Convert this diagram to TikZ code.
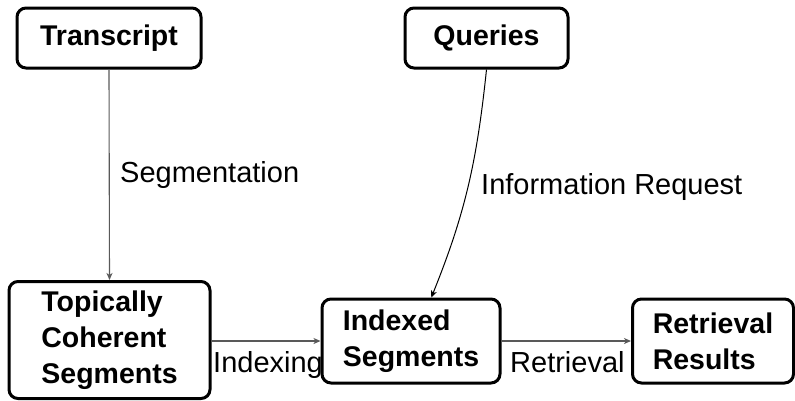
\documentclass[tikz,border=0pt]{standalone}
\usepackage{fontspec}
\setmainfont{Liberation Sans}
\usetikzlibrary{arrows.meta}
\begin{document}
\begin{tikzpicture}[x=1pt,y=-1pt,
  box/.style={draw=black, line width=3pt, rounded corners=9pt, align=left,
    font=\fontsize{28.5}{36}\selectfont\bfseries, inner sep=0pt, fill=white},
  lbl/.style={font=\fontsize{29}{34}\selectfont, inner sep=0pt},
  conn/.style={draw=black!65, line width=1.1pt, -{Stealth[length=7pt,width=6pt,inset=2pt]}},
  curv/.style={draw=black, line width=1pt, -{Stealth[length=7pt,width=6pt,inset=2pt]}}]
\useasboundingbox (0,0) rectangle (795,400);
\node[box, minimum width=184pt, minimum height=60pt] (tr) at (109,38) {Transcript};
\node[box, minimum width=163pt, minimum height=60pt] (q) at (486.5,38) {Queries};
\node[box, minimum width=201pt, minimum height=117pt] (tc) at (109.5,340) {Topically\\Coherent\\Segments};
\node[box, minimum width=178pt, minimum height=84pt] (ix) at (411,341) {Indexed\\Segments};
\node[box, minimum width=161pt, minimum height=84pt] (rr) at (713,341) {Retrieval\\Results};
\draw[conn] (tr.south) -- (tc.north);
\draw[conn] (tc.east |- ix.west) -- (ix.west);
\draw[conn] (ix.east) -- (rr.west);
\draw[curv] (q.south) to[out=-96,in=68] (ix.65);
\node[lbl, anchor=base west] (l1) at (120,182) {Segmentation};
\node[lbl, anchor=base west] (l2) at (481,194) {Information Request};
\node[lbl, anchor=base west] (l3) at (213,372) {Indexing};
\node[lbl, anchor=base west] (l4) at (510,372) {Retrieval};
\end{tikzpicture}
\end{document}
